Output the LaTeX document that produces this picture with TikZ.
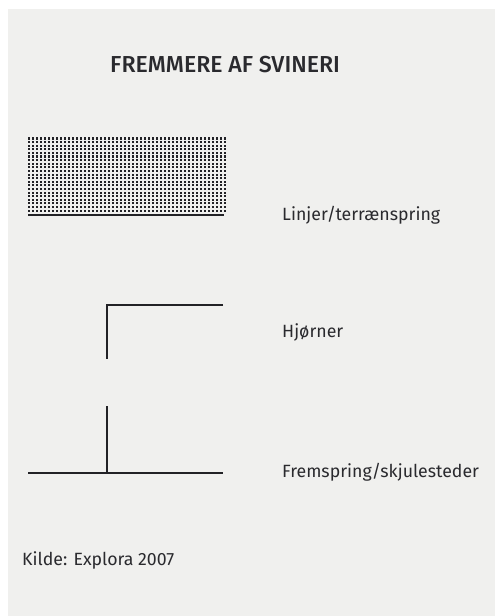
\documentclass[tikz,border=0pt]{standalone}
\usepackage{fontspec}
\setmainfont{Fira Sans}
\newfontfamily\headfont{Fira Sans Medium}
\definecolor{panel}{HTML}{F0F0EE}
\definecolor{ink}{HTML}{222226}
\definecolor{txt}{HTML}{2A2A2E}
\tikzset{
  symline/.style={draw=ink, line width=2.6bp},
  label/.style={anchor=base west, inner sep=0pt, text=txt, font=\fontsize{17.8}{21}\selectfont},
  heading/.style={anchor=base west, inner sep=0pt, text=txt, font=\headfont\fontsize{23.2}{27}\selectfont},
}
\begin{document}
\begin{tikzpicture}[x=1bp, y=-1bp]
  \useasboundingbox (0,0) rectangle (495,616);
  \fill[white] (0,0) rectangle (495,616);
  \fill[panel] (8,9) rectangle (495,616);

  % heading
  \node[heading] (title) at (110,73) {FREMMERE AF SVINERI};

  % dotted band with its base line (lines / terrain steps)
  \foreach \i in {0,...,49}
    \foreach \j in {0,...,20}
      \fill[ink] (28+4*\i, 137.5+3.6*\j) rectangle ++(2.1,2.1);
  \coordinate (bandL) at (28,215);
  \coordinate (bandR) at (224,215);
  \draw[symline] (bandL) -- (bandR);
  \node[label] (linjer) at (282,220) {Linjer/terrænspring};

  % corner symbol
  \coordinate (cornerT) at (223,305);
  \coordinate (cornerC) at (107,305);
  \coordinate (cornerB) at (107,359);
  \draw[symline] (cornerT) -- (cornerC) -- (cornerB);
  \node[label] (hjorner) at (282,337) {Hjørner};

  % protrusion symbol
  \coordinate (baseL) at (28,473);
  \coordinate (baseR) at (223,473);
  \coordinate (stubT) at (107,406);
  \coordinate (stubB) at (107,473);
  \draw[symline] (baseL) -- (baseR);
  \draw[symline] (stubT) -- (stubB);
  \node[label] (fremspring) at (282,477) {Fremspring/skjulesteder};

  % source line
  \node[label] (kilde) at (22,565) {Kilde: Explora 2007};
\end{tikzpicture}
\end{document}
